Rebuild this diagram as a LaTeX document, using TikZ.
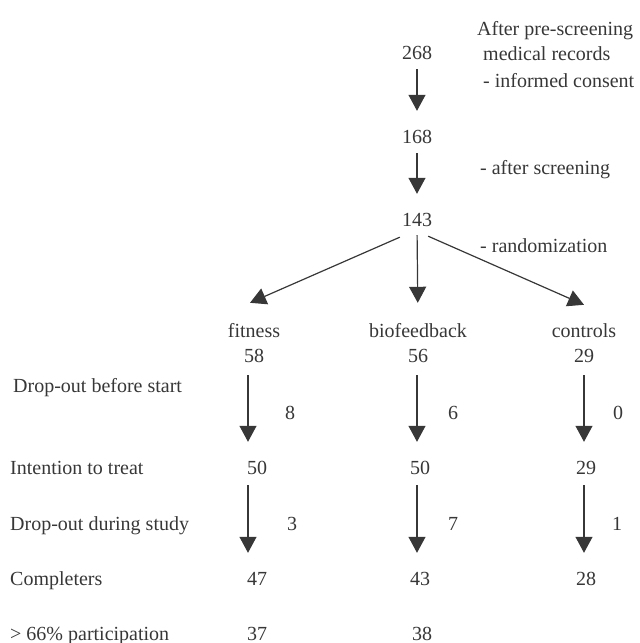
\documentclass[tikz,border=0pt]{standalone}
\usepackage{fontspec}
\setmainfont{Liberation Serif}
\usepackage{xcolor}
\usepackage{tikz}
\usetikzlibrary{arrows.meta,positioning,calc}

\definecolor{ink}{RGB}{55,55,55}

\begin{document}
\begin{tikzpicture}[x=1pt, y=-1pt,
    num/.style={inner sep=0pt, text height=14pt, text depth=0pt, font=\fontsize{20}{24}\selectfont, text=ink},
    lbl/.style={num, anchor=west},
    flow/.style={-{Triangle[width=17pt,length=16pt]}, line width=1.2pt, draw=ink, shorten <=10pt, shorten >=18pt}]

\useasboundingbox (0,0) rectangle (640,643);

% Screening stages (absolute coordinates)
\node[num] (n268) at (417,52) {268};
\node[num] (n168) at (417,136) {168};
\node[num] (n143) at (417,219) {143};

\node[lbl] (pre)  at (477,28) {After pre-screening};
\node[lbl] (med)  at (483,53) {medical records};
\node[lbl] (cons) at (483,80) {- informed consent};
\node[lbl] (scr)  at (480,167) {- after screening};
\node[lbl] (rand) at (480,245) {- randomization};

\draw[flow] (n268) -- (n168);
\draw[flow] (n168) -- (n143);

% Groups
\node[num] (fit) at (254,330) {fitness};
\node[num] (bio) at (418,330) {biofeedback};
\node[num] (ctl) at (584,330) {controls};

\draw[flow, shorten <=0pt, shorten >=0pt] ([xshift=-2pt,yshift=-11pt]n143.south west) -- ([xshift=-4pt,yshift=20pt]fit.north);
\draw[flow, shorten <=9pt, shorten >=20pt] (n143.south) -- (bio.north);
\draw[flow, shorten <=0pt, shorten >=0pt] ([xshift=-4pt,yshift=-10pt]n143.south east) -- ([yshift=18pt]ctl.north);

% Row labels on the left
\node[lbl] (lstart) at (13,385) {Drop-out before start};
\node[lbl] (litt)   at (10,467) {Intention to treat};
\node[lbl] (ldur)   at (10,523) {Drop-out during study};
\node[lbl] (lcomp)  at (10,578) {Completers};
\node[lbl] (lpart)  at (10,633) {> 66\% participation};

% Fitness column
\node[num] (f58) at (254,355) {58};
\node[num] (f50) at (257,467) {50};
\node[num] (f47) at (257,578) {47};
\node[num] (f37) at (257,633) {37};
\node[num] (fd1) at (290,412) {8};
\node[num] (fd2) at (292,523) {3};
\draw[flow, shorten <=13pt] ([xshift=-6pt]f58.south) -- ([xshift=-9pt]f50.north);
\draw[flow, shorten <=11pt] ([xshift=-9pt]f50.south) -- ([xshift=-9pt]f47.north);

% Biofeedback column
\node[num] (b56) at (418,355) {56};
\node[num] (b50) at (420,467) {50};
\node[num] (b43) at (420,578) {43};
\node[num] (b38) at (422,633) {38};
\node[num] (bd1) at (453,412) {6};
\node[num] (bd2) at (453,523) {7};
\draw[flow, shorten <=13pt] ([xshift=-1pt]b56.south) -- ([xshift=-3pt]b50.north);
\draw[flow, shorten <=11pt] ([xshift=-3pt]b50.south) -- ([xshift=-3pt]b43.north);

% Controls column
\node[num] (c29) at (584,355) {29};
\node[num] (c29b) at (586,467) {29};
\node[num] (c28) at (586,578) {28};
\node[num] (cd1) at (618,412) {0};
\node[num] (cd2) at (617,523) {1};
\draw[flow, shorten <=13pt] (c29.south) -- ([xshift=-2pt]c29b.north);
\draw[flow, shorten <=11pt] ([xshift=-2pt]c29b.south) -- ([xshift=-2pt]c28.north);

\end{tikzpicture}
\end{document}
